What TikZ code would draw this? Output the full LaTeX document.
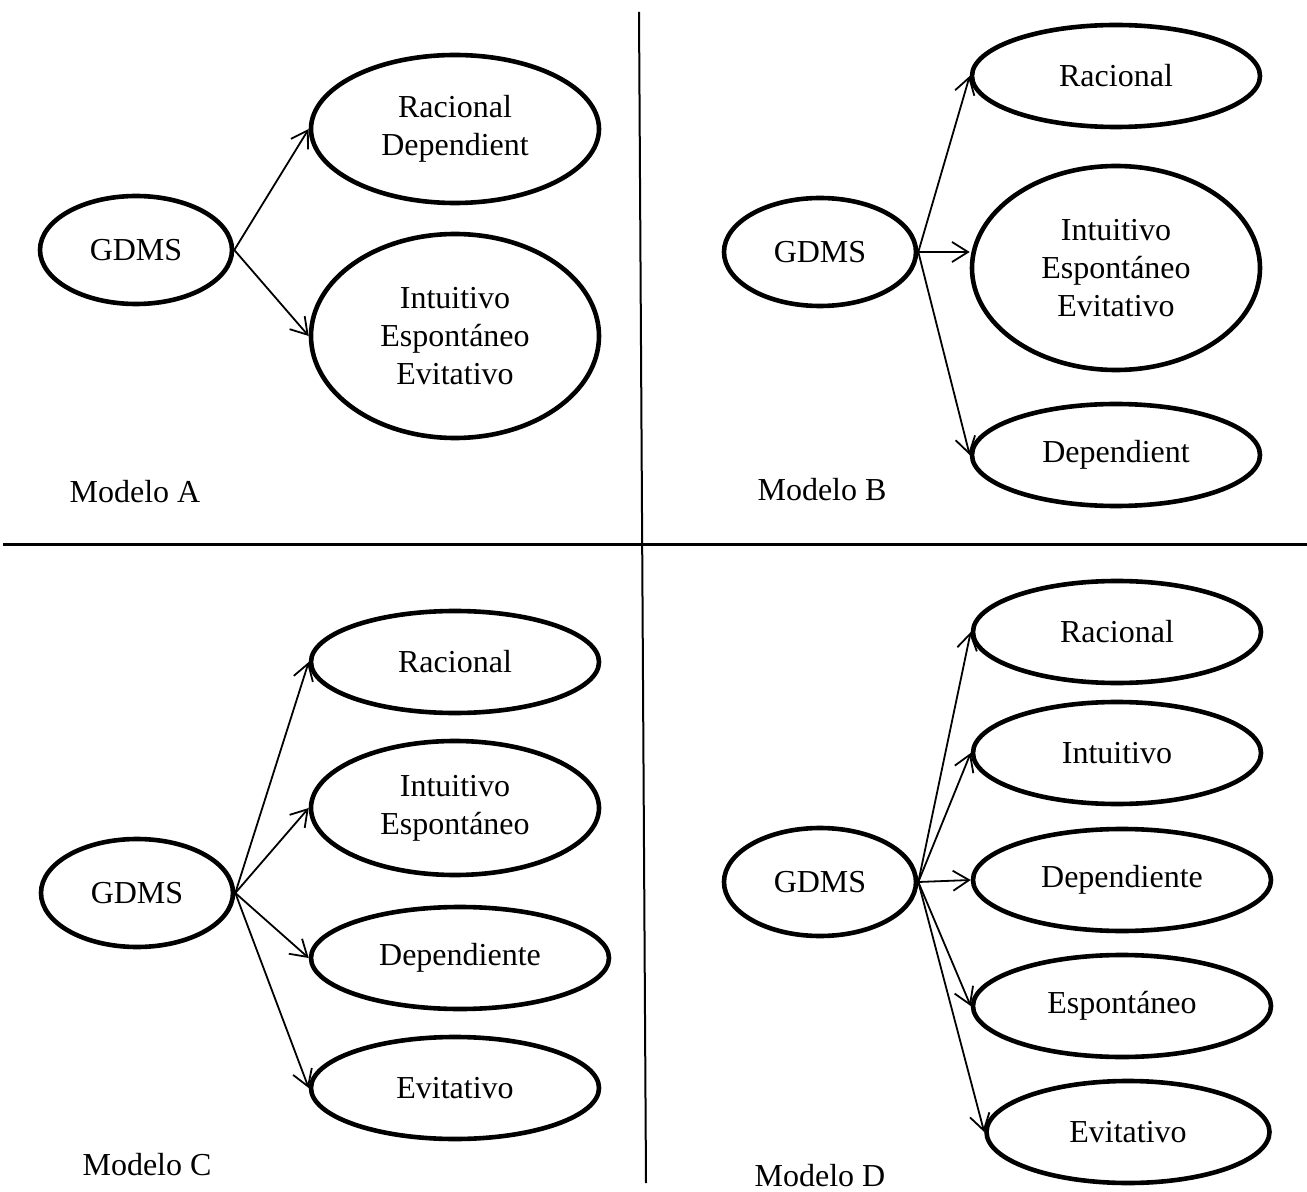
\documentclass[tikz,border=0pt]{standalone}
\usepackage{fontspec}
\setmainfont{Liberation Serif}
\usetikzlibrary{arrows.meta,shapes.geometric}

\begin{document}
\begin{tikzpicture}[>={Straight Barb[length=8pt,width=10pt]},x=0.5pt,y=-0.5pt,
  estilo/.style={ellipse,draw,line width=2.3pt,inner sep=0pt,minimum width=144pt,
    minimum height=51pt,align=center,font=\fontsize{16}{19}\selectfont},
  gdms/.style={estilo,minimum width=96pt,minimum height=54pt},
  flecha/.style={->,line width=0.9pt},
  modelo/.style={inner sep=0pt,font=\fontsize{16}{19}\selectfont}]
  \useasboundingbox (0,0) rectangle (1307,1192);
  % Dividers
  \draw[line width=1pt] (639,12)--(646,1183);
  \draw[line width=1.5pt] (3,545)--(1307,545);
  % Modelo A
  \node[gdms] (gA) at (136,250) {GDMS};
  \node[estilo,minimum height=74pt] (rdA) at (455,129) {Racional\\Dependient};
  \node[estilo,minimum height=102pt] (ieeA) at (455,336) {Intuitivo\\Espontáneo\\Evitativo};
  \draw[flecha] (gA.east)--(rdA.west);
  \draw[flecha] (gA.east)--(ieeA.west);
  \node[modelo] (mA) at (135,492) {Modelo A};
  % Modelo B
  \node[gdms] (gB) at (820,252) {GDMS};
  \node[estilo] (rB) at (1116,76) {Racional};
  \node[estilo,minimum height=102pt] (ieeB) at (1116,268) {Intuitivo\\Espontáneo\\Evitativo};
  \node[estilo] (dB) at (1116,455) {Dependient};
  \draw[flecha] (gB.east)--(rB.west);
  \draw[flecha] (gB.east)--(gB.east -| ieeB.west);
  \draw[flecha] (gB.east)--(dB.west);
  \node[modelo] (mB) at (822,490) {Modelo B};
  % Modelo C
  \node[gdms] (gC) at (137,893) {GDMS};
  \node[estilo] (rC) at (455,662) {Racional};
  \node[estilo,minimum height=67pt] (ieC) at (455,808) {Intuitivo\\Espontáneo};
  \node[estilo,minimum width=149pt] (dC) at (460,958) {Dependiente};
  \node[estilo] (evC) at (455,1088) {Evitativo};
  \draw[flecha] (gC.east)--(rC.west);
  \draw[flecha] (gC.east)--(ieC.west);
  \draw[flecha] (gC.east)--(dC.west);
  \draw[flecha] (gC.east)--(evC.west);
  \node[modelo] (mC) at (147,1165) {Modelo C};
  % Modelo D
  \node[gdms] (gD) at (820,882) {GDMS};
  \node[estilo] (rD) at (1117,632) {Racional};
  \node[estilo] (iD) at (1117,753) {Intuitivo};
  \node[estilo,minimum width=149pt] (dD) at (1122,880) {Dependiente};
  \node[estilo,minimum width=149pt] (eD) at (1122,1006) {Espontáneo};
  \node[estilo,minimum width=141.5pt] (evD) at (1128,1132) {Evitativo};
  \draw[flecha] (gD.east)--(rD.west);
  \draw[flecha] (gD.east)--(iD.west);
  \draw[flecha] (gD.east)--(dD.west);
  \draw[flecha] (gD.east)--(eD.west);
  \draw[flecha] (gD.east)--(evD.west);
  \node[modelo] (mD) at (820,1176) {Modelo D};
\end{tikzpicture}
\end{document}
